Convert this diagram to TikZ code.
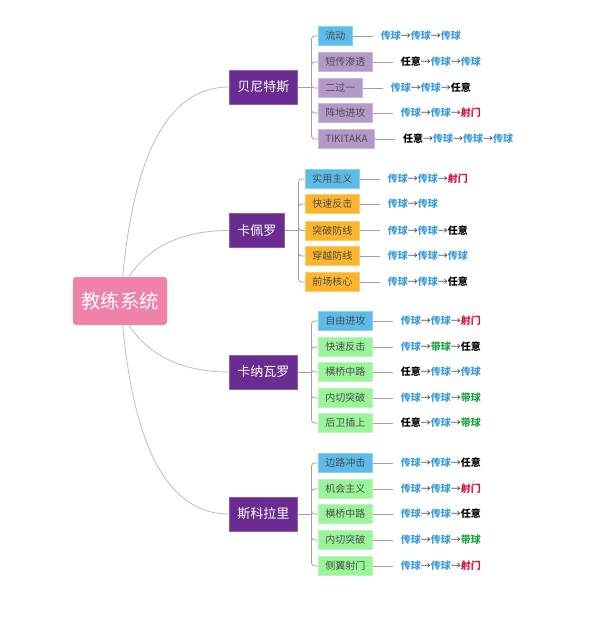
\documentclass[tikz,border=0pt]{standalone}
\usepackage{fontspec}
\setmainfont{Noto Sans CJK SC}
\usetikzlibrary{positioning}

\definecolor{rootpink}{HTML}{F081A9}
\definecolor{coachpurple}{HTML}{6A2C91}
\definecolor{tacblue}{HTML}{5BBCEA}
\definecolor{taclilac}{HTML}{B398C8}
\definecolor{tacorange}{HTML}{FBB52D}
\definecolor{tacgreen}{HTML}{9AF59A}
\definecolor{passblue}{HTML}{3A9BDC}
\definecolor{shotred}{HTML}{D6143F}
\definecolor{dribgreen}{HTML}{1FA23A}
\definecolor{linegray}{HTML}{A0A0A0}
\definecolor{curvegray}{HTML}{BDBDBD}

\newcommand{\cpass}{\textcolor{passblue}{传球}}
\newcommand{\cany}{\textcolor{black}{任意}}
\newcommand{\cshot}{\textcolor{shotred}{射门}}
\newcommand{\cdrib}{\textcolor{dribgreen}{带球}}
\newcommand{\cnext}{\textcolor{black!80}{\mdseries →}}

\begin{document}
\begin{tikzpicture}[x=0.75pt, y=-0.75pt,
  root/.style={fill=rootpink, text=white, rounded corners=2.25pt,
    minimum width=70.5pt, minimum height=36pt,
    font=\fontsize{14.5}{16}\selectfont},
  coach/.style={fill=coachpurple, draw=coachpurple!75!white, text=white,
    inner xsep=6pt, minimum height=25.5pt, anchor=west,
    font=\fontsize{9.75}{11}\selectfont},
  tactic/.style={fill=#1, draw=#1!70!white, text=black!70,
    inner xsep=5.25pt, inner ysep=0pt, minimum height=14.25pt, anchor=west,
    font=\fontsize{7.5}{9}\selectfont},
  chain/.style={inner sep=0pt, anchor=west,
    font=\bfseries\fontsize{7.5}{9}\selectfont},
  link/.style={draw=linegray, line width=0.6pt},
  curve/.style={draw=curvegray, line width=0.6pt},
]
  \useasboundingbox (0,0) rectangle (600,617);

  \node[root] (root) at (120,301) {教练系统};

  \node[coach] (ben) at (229,87) {贝尼特斯};
  \node[coach] (cap) at (229,230.5) {卡佩罗};
  \node[coach] (can) at (229,372) {卡纳瓦罗};
  \node[coach] (sco) at (229,514) {斯科拉里};

  \draw[curve] ([xshift=2pt]root.north) .. controls +(12,-127) and +(-59,0) .. (ben.west);
  \draw[curve] ([xshift=6.75pt]root.north) .. controls +(21,-32) and +(-44,0) .. (cap.west);
  \draw[curve] ([xshift=6.75pt]root.south) .. controls +(21,32) and +(-44,0) .. (can.west);
  \draw[curve] ([xshift=2pt]root.south) .. controls +(12,127) and +(-59,0) .. (sco.west);

  % brackets
  \foreach \c in {ben,cap,can,sco} {
    \coordinate (\c-b) at ([xshift=10.5pt]\c.east);
    \draw[link] (\c.east) -- (\c-b);
  }

  \foreach \y/\nm/\txt/\col/\lab in {
    36/ben1/流动/tacblue/{\cpass\cnext\cpass\cnext\cpass},
    62/ben2/短传渗透/taclilac/{\cany\cnext\cpass\cnext\cpass},
    88/ben3/二过一/taclilac/{\cpass\cnext\cpass\cnext\cany},
    113/ben4/阵地进攻/taclilac/{\cpass\cnext\cpass\cnext\cshot},
    139/ben5/TIKITAKA/taclilac/{\cany\cnext\cpass\cnext\cpass\cnext\cpass}} {
    \node[tactic=\col] (\nm) at (318,\y) {\txt};
    \node[chain, right=21pt of \nm] (\nm-c) {\lab};
    \draw[link] (\nm.east) -- ([xshift=-6pt]\nm-c.west);
    \draw[link, rounded corners=2.25pt] (ben-b) |- (\nm.west);
  }

  \foreach \y/\nm/\txt/\col/\lab in {
    179/cap1/实用主义/tacblue/{\cpass\cnext\cpass\cnext\cshot},
    204/cap2/快速反击/tacorange/{\cpass\cnext\cpass},
    230.5/cap3/突破防线/tacorange/{\cpass\cnext\cpass\cnext\cany},
    256/cap4/穿越防线/tacorange/{\cpass\cnext\cpass\cnext\cpass},
    282/cap5/前场核心/tacorange/{\cpass\cnext\cpass\cnext\cany}} {
    \node[tactic=\col] (\nm) at (305,\y) {\txt};
    \node[chain, right=21pt of \nm] (\nm-c) {\lab};
    \draw[link] (\nm.east) -- ([xshift=-6pt]\nm-c.west);
    \draw[link, rounded corners=2.25pt] (cap-b) |- (\nm.west);
  }

  \foreach \y/\nm/\txt/\col/\lab in {
    321/can1/自由进攻/tacblue/{\cpass\cnext\cpass\cnext\cshot},
    347/can2/快速反击/tacgreen/{\cpass\cnext\cdrib\cnext\cany},
    372/can3/横桥中路/tacgreen/{\cany\cnext\cpass\cnext\cpass},
    398/can4/内切突破/tacgreen/{\cpass\cnext\cpass\cnext\cdrib},
    423/can5/后卫插上/tacgreen/{\cany\cnext\cpass\cnext\cdrib}} {
    \node[tactic=\col] (\nm) at (318,\y) {\txt};
    \node[chain, right=21pt of \nm] (\nm-c) {\lab};
    \draw[link] (\nm.east) -- ([xshift=-6pt]\nm-c.west);
    \draw[link, rounded corners=2.25pt] (can-b) |- (\nm.west);
  }

  \foreach \y/\nm/\txt/\col/\lab in {
    463/sco1/边路冲击/tacblue/{\cpass\cnext\cpass\cnext\cany},
    489/sco2/机会主义/tacgreen/{\cpass\cnext\cpass\cnext\cshot},
    514/sco3/横桥中路/tacgreen/{\cpass\cnext\cpass\cnext\cany},
    540/sco4/内切突破/tacgreen/{\cpass\cnext\cpass\cnext\cdrib},
    566/sco5/侧翼射门/tacgreen/{\cpass\cnext\cpass\cnext\cshot}} {
    \node[tactic=\col] (\nm) at (318,\y) {\txt};
    \node[chain, right=21pt of \nm] (\nm-c) {\lab};
    \draw[link] (\nm.east) -- ([xshift=-6pt]\nm-c.west);
    \draw[link, rounded corners=2.25pt] (sco-b) |- (\nm.west);
  }
\end{tikzpicture}
\end{document}
